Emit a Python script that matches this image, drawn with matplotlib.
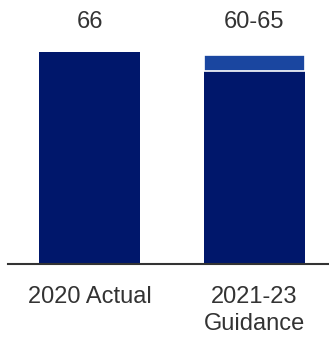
import matplotlib.pyplot as plt

# Capex outlook: actual vs guidance range
categories = ['2020 Actual', '2021-23\nGuidance']
base_values = [66, 60]
range_top = [None, 65]
value_labels = ['66', '60-65']

dark_blue = '#00176B'
light_blue = '#1A46A0'
text_color = '#333333'

plt.rcParams['font.family'] = ['Liberation Sans', 'DejaVu Sans']

fig = plt.figure(figsize=(3.29, 3.38), dpi=100)
ax = fig.add_axes([8 / 329, 74 / 338, 321 / 329, 264 / 338])

x = list(range(len(categories)))
width = 0.614

ax.bar(x, base_values, width=width, color=dark_blue, linewidth=0)

# guidance upper band stacked on top of the low end
for xi, lo, hi in zip(x, base_values, range_top):
    if hi is not None:
        ax.bar(xi, hi - lo, bottom=lo, width=width, color=light_blue,
               edgecolor='white', linewidth=1.2)

for xi, lbl in zip(x, value_labels):
    ax.text(xi, 0.918, lbl, transform=ax.get_xaxis_transform(),
            ha='center', va='center', fontsize=17, color=text_color)

ax.set_xlim(-0.4985, 1.453)
ax.set_ylim(0, 66 * 264 / 212)

ax.set_xticks(x)
ax.set_xticklabels(categories, fontsize=17, color=text_color, linespacing=1.32)
ax.tick_params(axis='x', length=0, pad=15.5)
ax.set_yticks([])

for side in ['top', 'right', 'left']:
    ax.spines[side].set_visible(False)
ax.spines['bottom'].set_color(text_color)
ax.spines['bottom'].set_linewidth(1.5)

fig.savefig('out.png', dpi=100)
